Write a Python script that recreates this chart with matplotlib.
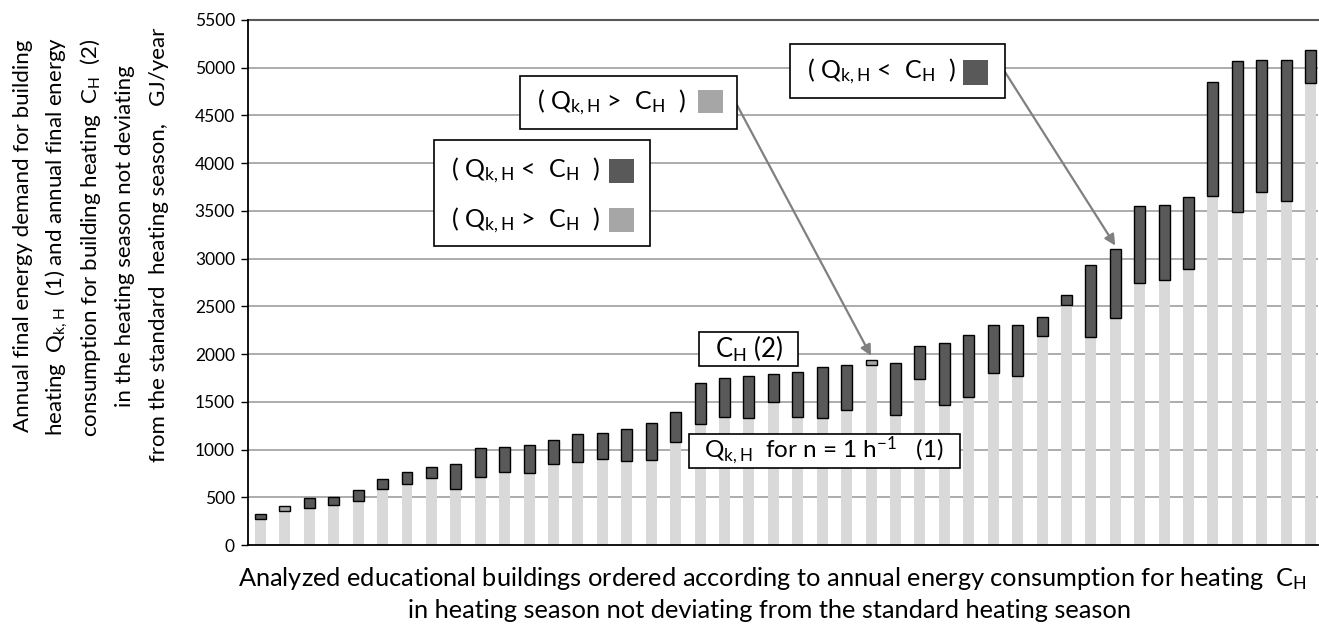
import matplotlib
matplotlib.use("Agg")
import matplotlib.pyplot as plt
from matplotlib.patches import Rectangle
import numpy as np

plt.rcParams["font.family"] = ["Lato", "DejaVu Sans"]
plt.rcParams["mathtext.default"] = "regular"

# annual final energy demand Q_k,H (n = 1 1/h) and measured consumption C_H, GJ/year
q_kh = [270, 406, 385, 424, 459, 590, 638, 698, 590, 712,
        769, 754, 853, 874, 898, 877, 891, 1080, 1270, 1344,
        1333, 1498, 1344, 1330, 1414, 1941, 1365, 1737, 1464, 1548,
        1804, 1770, 2193, 2512, 2182, 2377, 2740, 2774, 2894, 3655,
        3487, 3700, 3607, 4844]
c_h = [322, 354, 488, 501, 572, 691, 761, 821, 846, 1011,
       1025, 1049, 1095, 1158, 1169, 1215, 1274, 1393, 1702, 1748,
       1772, 1796, 1811, 1870, 1881, 1881, 1906, 2085, 2120, 2204,
       2307, 2302, 2388, 2620, 2932, 3097, 3550, 3562, 3644, 4855,
       5069, 5080, 5080, 5185]
y_ticks = list(range(0, 5501, 500))

LIGHT = "#d9d9d9"
DARK = "#595959"
MID = "#a6a6a6"

W, H = 1319, 631


def fx(px):
    return px / W


def fy(py):
    return 1 - py / H


q = np.array(q_kh)
c = np.array(c_h)
x = np.arange(len(q))
base = np.minimum(q, c)
diff = np.abs(c - q)
seg_col = [DARK if ci > qi else MID for qi, ci in zip(q, c)]

fig = plt.figure(figsize=(W / 100, H / 100), dpi=100)
ax = fig.add_axes([fx(248), fy(545), fx(1318) - fx(248), fy(20) - fy(545)])

ax.bar(x, base, width=0.45, color=LIGHT, zorder=2)
ax.bar(x, diff, bottom=base, width=0.45, color=seg_col, edgecolor="black",
       linewidth=1.0, zorder=3)

ax.set_ylim(0, 5500)
ax.set_xlim(-0.51, 43.3)
ax.set_yticks(y_ticks)
ax.set_xticks([])
ax.tick_params(axis="y", direction="out", length=4.7, width=1, labelsize=12.5, pad=4.7)
for t in y_ticks[1:-1]:
    ax.axhline(t, color=MID, lw=1.3, zorder=1)
ax.axhline(5500, color=DARK, lw=1.5, zorder=1, clip_on=False)
for s in ["top", "right"]:
    ax.spines[s].set_visible(False)
ax.spines["left"].set_linewidth(1.3)
ax.spines["bottom"].set_linewidth(1.3)

# y axis title, five centred lines
ylab = ["Annual final energy demand for building",
        "heating  Q$_{k,H}$  (1) and annual final energy",
        "consumption for building heating  C$_{H}$  (2)",
        "in the heating season not deviating",
        "from the standard  heating season,   GJ/year"]
for px, py, s in zip([23, 57, 91, 125, 159], [236, 236, 238, 236, 245], ylab):
    fig.text(fx(px), fy(py), s, rotation=90, ha="center", va="center", fontsize=16)

fig.text(fx(772), fy(578), "Analyzed educational buildings ordered according to annual "
         "energy consumption for heating  C$_{H}$", ha="center", va="center", fontsize=18.3)
fig.text(fx(769), fy(610), "in heating season not deviating from the standard heating season",
         ha="center", va="center", fontsize=18.3)


def box(x0, y0, x1, y1):
    fig.patches.append(Rectangle((fx(x0), fy(y1)), fx(x1) - fx(x0), fy(y0) - fy(y1),
                                 transform=fig.transFigure, fc="white", ec="black",
                                 lw=1.2, zorder=5))


def swatch(x0, y0, x1, y1, col):
    fig.patches.append(Rectangle((fx(x0), fy(y1)), fx(x1) - fx(x0), fy(y0) - fy(y1),
                                 transform=fig.transFigure, fc=col, ec="none", zorder=6))


def label(px, py, s, ha="left", size=18):
    fig.text(fx(px), fy(py), s, ha=ha, va="center", fontsize=size, zorder=7)


# arrows pointing at single buildings
ax.annotate("", xy=(25, q[25] + 40), xytext=(fx(737), fy(105)), textcoords="figure fraction",
            arrowprops=dict(arrowstyle="-|>", color="#808080", lw=1.6, mutation_scale=16,
                            shrinkA=0, shrinkB=0), zorder=4)
ax.annotate("", xy=(35, c[35] + 40), xytext=(fx(1005), fy(72)), textcoords="figure fraction",
            arrowprops=dict(arrowstyle="-|>", color="#808080", lw=1.6, mutation_scale=16,
                            shrinkA=0, shrinkB=0), zorder=4)

gt = "( Q$_{k,H}$ >  C$_{ H}$  )"
lt = "( Q$_{k,H}$ <  C$_{ H}$  )"

box(520, 76, 737, 129)
label(537, 102, gt)
swatch(698, 90, 723, 113, MID)

box(434, 140, 650, 246)
label(451, 170, lt)
swatch(609, 159, 634, 183, DARK)
label(451, 220, gt)
swatch(609, 208, 634, 232, MID)

box(790, 44, 1005, 98)
label(807, 71, lt)
swatch(963, 60, 988, 85, DARK)

box(699, 332, 798, 366)
label(749, 349, "C$_{ H}$ (2)", ha="center", size=18.5)

box(689, 434, 960, 468)
label(824, 451, "Q$_{k,H}$  for n = 1 h$^{-1}$   (1)", ha="center", size=17.5)

fig.savefig("out.png", dpi=100)
